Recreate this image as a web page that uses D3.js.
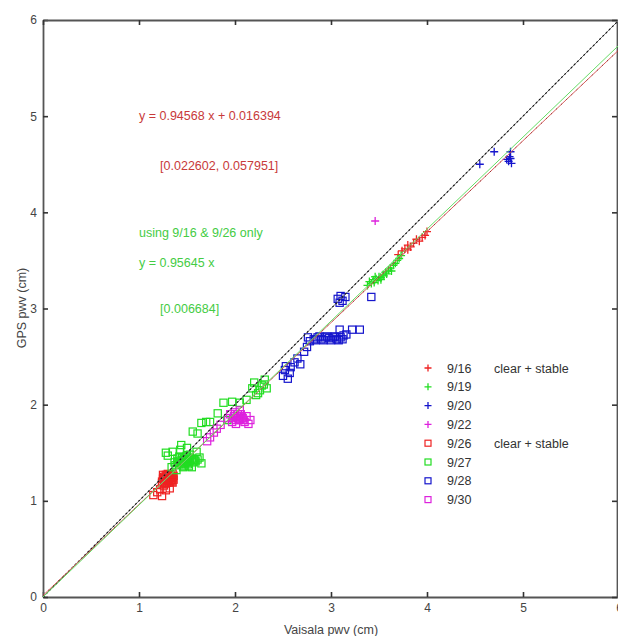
<!DOCTYPE html>
<html><head><meta charset="utf-8">
<script src="https://cdn.jsdelivr.net/npm/d3@7"></script>
<style>body{margin:0;background:#fff}svg{display:block}text{font-family:"Liberation Sans",Arial,sans-serif}</style>
</head><body><svg id="c" width="618" height="636"></svg>
<script>
// ---- data ----
const xTicks = [0,1,2,3,4,5,6];
const yTicks = [0,1,2,3,4,5,6];
const xLabel = "Vaisala pwv (cm)";
const yLabel = "GPS pwv (cm)";
const fitRed = {slope:0.94568, intercept:0.016394};
const fitGreen = {slope:0.95645, intercept:0};
const annotations = [
  {text:"y = 0.94568 x + 0.016394", x:1.0, y:4.96, color:"#c83a3a"},
  {text:"[0.022602, 0.057951]", x:1.22, y:4.44, color:"#c83a3a"},
  {text:"using 9/16 & 9/26 only", x:1.0, y:3.74, color:"#44cc44"},
  {text:"y = 0.95645 x", x:1.0, y:3.43, color:"#44cc44"},
  {text:"[0.006684]", x:1.22, y:2.95, color:"#44cc44"}
];
const s0916x = [3.70,3.74,3.77,3.80,3.83,3.86,3.89,3.92,3.95,3.98,4.00,3.80];
const s0916y = [3.56,3.60,3.62,3.66,3.64,3.68,3.72,3.70,3.74,3.76,3.80,3.61];
const s0919x = [3.38,3.40,3.42,3.44,3.45,3.47,3.49,3.50,3.52,3.54,3.55,3.57,3.58,3.60,3.62,3.63,3.65,3.67,3.69,3.71,3.73,3.52,3.46];
const s0919y = [3.24,3.28,3.26,3.30,3.27,3.31,3.29,3.33,3.32,3.35,3.34,3.38,3.36,3.40,3.42,3.39,3.45,3.47,3.50,3.52,3.55,3.30,3.33];
const s0920x = [4.55,4.70,4.87,4.85,4.87,4.83,4.88,4.86];
const s0920y = [4.50,4.63,4.63,4.53,4.56,4.55,4.51,4.58];
const s0922x = [3.46];
const s0922y = [3.91];
const s0926x = [1.24,1.26,1.28,1.30,1.32,1.34,1.36,1.25,1.27,1.29,1.31,1.33,1.35,1.26,1.30,1.34,1.15,1.19,1.22,1.28,1.32,1.24,
                1.25,1.27,1.29,1.31,1.33,1.35,1.26,1.28,1.30,1.32,1.34,1.27,1.29,1.31,1.33,1.36,1.24,1.35];
const s0926y = [1.20,1.22,1.24,1.21,1.23,1.25,1.22,1.27,1.18,1.26,1.19,1.27,1.24,1.16,1.28,1.20,1.06,1.09,1.12,1.11,1.13,1.05,
                1.23,1.21,1.19,1.25,1.21,1.19,1.25,1.27,1.23,1.27,1.22,1.24,1.22,1.22,1.25,1.26,1.18,1.28];
const s0927x = [1.35,1.43,1.50,1.53,1.63,1.65,1.37,1.46,1.55,1.39,1.34,1.45,1.50,1.56,1.60,1.28,1.30,1.40,1.42,1.48,1.58,1.52,1.44,
                1.41,1.43,1.47,1.49,1.51,1.53,1.55,1.57,1.59,1.61,1.45,1.47,1.49,1.51,1.53,1.38,1.40,1.42,1.44,1.46,1.48,1.50,1.52,
                1.56,1.65,1.74,1.82,1.88,1.97,2.05,2.12,1.61,1.70,1.92,
                2.20,2.26,2.31,2.22,2.28,2.33,2.18,2.24,2.30];
const s0927y = [1.51,1.53,1.55,1.48,1.45,1.39,1.40,1.35,1.35,1.32,1.35,1.45,1.40,1.40,1.51,1.50,1.47,1.44,1.38,1.43,1.42,1.36,1.58,
                1.40,1.42,1.44,1.46,1.40,1.42,1.44,1.43,1.41,1.43,1.38,1.36,1.41,1.38,1.45,1.37,1.41,1.46,1.40,1.42,1.39,1.47,1.43,
                1.72,1.81,1.82,1.91,2.02,2.03,2.02,2.05,1.70,1.82,1.84,
                2.23,2.15,2.26,2.10,2.20,2.17,2.17,2.12,2.21];
const s0928x = [2.50,2.52,2.55,2.58,2.62,2.65,2.68,2.72,2.75,2.78,2.76,2.82,2.86,2.90,2.94,2.98,3.02,3.06,3.10,3.13,3.16,3.09,3.22,3.30,3.07,3.10,3.12,3.15,3.09,3.42,2.84,2.88,2.92,2.96,3.00,3.04,3.08,3.12,2.57,2.53];
const s0928y = [2.30,2.36,2.27,2.39,2.44,2.48,2.42,2.55,2.60,2.66,2.70,2.68,2.70,2.68,2.70,2.69,2.70,2.68,2.70,2.72,2.73,2.78,2.78,2.78,3.10,3.13,3.08,3.12,3.06,3.12,2.67,2.71,2.67,2.71,2.67,2.71,2.67,2.68,2.33,2.40];
const s0930x = [1.95,1.98,2.00,2.02,2.04,2.06,2.08,2.10,2.12,1.97,2.01,2.05,2.14,2.16,1.93,2.03,1.71,1.74,1.78,1.81,1.85,1.99,2.03,2.07,2.01,2.05,2.09];
const s0930y = [1.90,1.86,1.92,1.88,1.84,1.90,1.86,1.82,1.88,1.82,1.80,1.94,1.80,1.84,1.86,1.86,1.62,1.66,1.71,1.75,1.79,1.88,1.90,1.88,1.84,1.85,1.84];

const series = [
  {name:"9/16", note:"clear + stable", marker:"plus", color:"#ee2222", xs:s0916x, ys:s0916y},
  {name:"9/19", note:"", marker:"plus", color:"#22dd22", xs:s0919x, ys:s0919y},
  {name:"9/20", note:"", marker:"plus", color:"#1515cc", xs:s0920x, ys:s0920y},
  {name:"9/22", note:"", marker:"plus", color:"#dd22dd", xs:s0922x, ys:s0922y},
  {name:"9/26", note:"clear + stable", marker:"square", color:"#ee2222", xs:s0926x, ys:s0926y},
  {name:"9/27", note:"", marker:"square", color:"#22dd22", xs:s0927x, ys:s0927y},
  {name:"9/28", note:"", marker:"square", color:"#1515cc", xs:s0928x, ys:s0928y},
  {name:"9/30", note:"", marker:"square", color:"#dd22dd", xs:s0930x, ys:s0930y}
];

// ---- drawing ----
const svg = d3.select("#c");
const x = d3.scaleLinear().domain([0,6]).range([43,619]);
const y = d3.scaleLinear().domain([0,6]).range([597,20]);

const axisColor = "#555";
function styleAxis(g, labels){
  g.select(".domain").attr("stroke", axisColor).attr("stroke-width", 1.8);
  g.selectAll(".tick line").attr("stroke", "#333").attr("stroke-width", 1.6);
  g.selectAll(".tick text").attr("fill", "#444").attr("font-size", 12);
  if(!labels) g.selectAll(".tick text").remove();
}
svg.append("g").attr("transform","translate(0,597)")
  .call(d3.axisBottom(x).tickValues(xTicks).tickFormat(d3.format("d")).tickSize(-5).tickSizeOuter(0).tickPadding(6))
  .call(g=>styleAxis(g,true));
svg.append("g").attr("transform","translate(43,0)")
  .call(d3.axisLeft(y).tickValues(yTicks).tickFormat(d3.format("d")).tickSize(-5).tickSizeOuter(0).tickPadding(6))
  .call(g=>styleAxis(g,true));
svg.append("g").attr("transform","translate(0,20)")
  .call(d3.axisTop(x).tickValues(xTicks).tickSize(-5).tickSizeOuter(0))
  .call(g=>styleAxis(g,false));
svg.append("g").attr("transform","translate(617,0)")
  .call(d3.axisRight(y).tickValues(yTicks).tickSize(-5).tickSizeOuter(0))
  .call(g=>styleAxis(g,false));

// axis titles
svg.append("text").attr("x", 331).attr("y", 634).attr("text-anchor","middle")
  .attr("font-size", 12.5).attr("fill","#444").text(xLabel);
svg.append("text").attr("transform","translate(26,308) rotate(-90)").attr("text-anchor","middle")
  .attr("font-size", 12.5).attr("fill","#444").text(yLabel);

// markers
function drawMarker(g, type, cx, cy, color, s){
  if(type==="plus"){
    g.append("path").attr("d",`M${cx-s},${cy}H${cx+s}M${cx},${cy-s}V${cy+s}`)
      .attr("stroke",color).attr("stroke-width",1.3).attr("fill","none");
  } else {
    g.append("rect").attr("x",cx-s).attr("y",cy-s).attr("width",2*s).attr("height",2*s)
      .attr("stroke",color).attr("stroke-width",1.2).attr("fill","none");
  }
}
const mg = svg.append("g");
series.forEach(sr=>{
  sr.xs.forEach((xv,i)=>drawMarker(mg, sr.marker, x(xv), y(sr.ys[i]), sr.color, sr.marker==="plus"?4:3.6));
});

// lines
const line = d3.line().x(d=>x(d[0])).y(d=>y(d[1]));
const lineXs = [0,6];
function fitPts(f){ return lineXs.map(v=>[v, f.slope*v+f.intercept]); }
svg.append("path").attr("d", line(lineXs.map(v=>[v,v]))).attr("stroke","#777").attr("stroke-width",1).attr("fill","none");
svg.append("path").attr("d", line(lineXs.map(v=>[v,v]))).attr("stroke","#111").attr("stroke-width",1.1).attr("stroke-dasharray","2,2.5").attr("fill","none");
svg.append("path").attr("d", line(fitPts(fitRed))).attr("stroke","#d86060").attr("stroke-width",1).attr("fill","none");
svg.append("path").attr("d", line(fitPts(fitRed))).attr("stroke","#802020").attr("stroke-width",1).attr("stroke-dasharray","1,6").attr("fill","none");
svg.append("path").attr("d", line(fitPts(fitGreen))).attr("stroke","#66dd66").attr("stroke-width",1).attr("fill","none");

// annotations
annotations.forEach(a=>{
  svg.append("text").attr("x", x(a.x)).attr("y", y(a.y)).attr("font-size", 12.5)
    .attr("fill", a.color).text(a.text);
});

// legend
const lg = svg.append("g");
series.forEach((sr,i)=>{
  const ly = 368 + i*18.8;
  drawMarker(lg, sr.marker, 428, ly, sr.color, sr.marker==="plus"?3.5:3);
  lg.append("text").attr("x",447).attr("y",ly+4.5).attr("font-size",12.5).attr("fill","#333").text(sr.name);
  if(sr.note) lg.append("text").attr("x",494).attr("y",ly+4.5).attr("font-size",12.5).attr("fill","#333").text(sr.note);
});
</script></body></html>
